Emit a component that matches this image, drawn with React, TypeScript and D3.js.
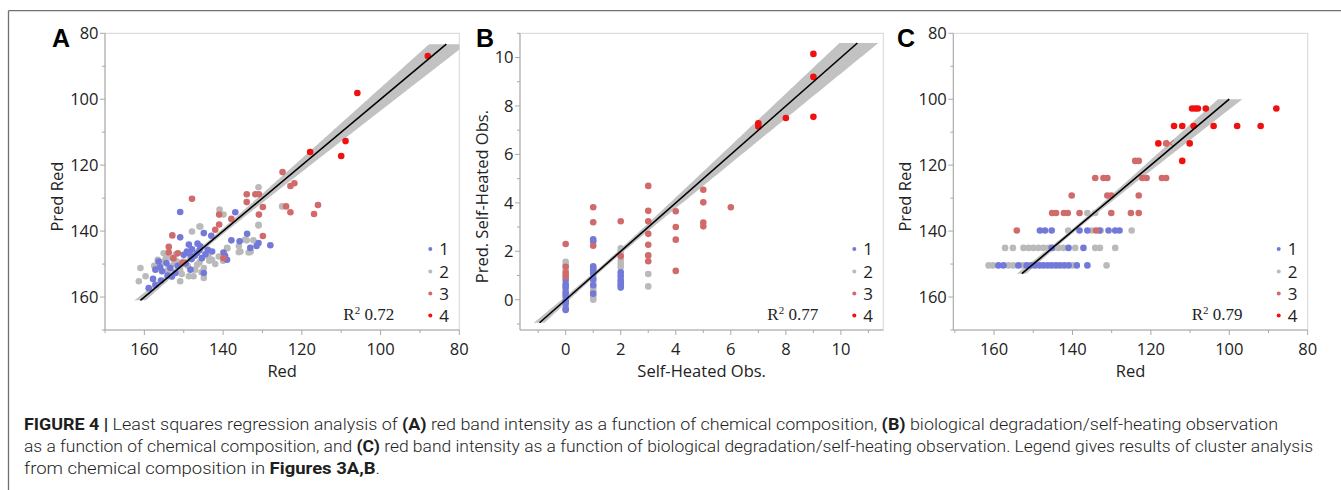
import React from "react";
import * as d3 from "d3";

// ---------- DATA ----------
const clusterLabels = ["1", "2", "3", "4"];
const clusterColors = ["#7279d8", "#bababa", "#d16a6a", "#f01010"];

const redTicks = [160, 140, 120, 100, 80];
const redMinor = [170, 150, 130, 110, 90];
const predRedTicks = [80, 100, 120, 140, 160];
const predRedMinor = [90, 110, 130, 150, 170];
const shTicks = [0, 2, 4, 6, 8, 10];
const shMinor = [-1, 1, 3, 5, 7, 9, 11];

const r2Values = ["0.72", "0.77", "0.79"];
const panelLetters = ["A", "B", "C"];
const xTitles = ["Red", "Self-Heated Obs.", "Red"];
const yTitles = ["Pred Red", "Pred. Self-Heated Obs.", "Pred Red"];

// fitted line extents (y = x) and confidence band parameters [mean, h0, k]
const fitExtents = [[161, 83.3], [-0.95, 10.6], [152.9, 100]];
const bandParams = [[145, 0.8, 0.075], [1.3, 0.1, 0.075], [140, 0.7, 0.075]];

// Panel A: Red vs Pred Red
const aCluster1 = [[150.9,134.2],[136.9,134.3],[144.9,140.6],[143,141.4],[150.9,141.9],[133.9,140.8],[137.9,142.8],[135.8,143.1],[131,143.6],[128,144.3],[133.1,145.1],[148.7,144.1],[147.9,145.5],[145.8,144.6],[143.9,145.7],[142.8,146.2],[139.9,146.5],[149.2,146.2],[146.6,146.7],[150,147.2],[145.4,148.2],[139,148.7],[156.4,149.2],[154.4,149.7],[157.2,151.7],[155.5,152.2],[153.4,151.2],[152.1,152.7],[148.3,151.7],[144.9,152.7],[157.8,154.5],[155.8,155],[154.1,153.5],[158.9,157.3],[157.2,156.3],[147.2,147.5],[148.5,146.8],[146,145.8],[144.5,147],[151.5,150.5],[149.5,149.8],[156,151],[153,153.8],[146.5,143.8],[148,148.5],[139.5,147.5],[131.5,144.5]];
const aCluster2 = [[140.9,133.5],[139.9,135],[145.8,138.6],[147.9,140.1],[131,138.1],[134.4,142.6],[132.3,142.8],[135.6,146.2],[133.5,146.5],[139,145.1],[141.1,147.7],[142.8,148.7],[146.6,150.2],[144.9,151.2],[147.1,151.7],[150.9,151.7],[155.1,146.7],[156.6,148.7],[155.1,149.2],[153,148.2],[151.7,149.2],[153.8,150.7],[161,151.2],[159.7,153.7],[161.4,155.2],[150.9,155.2],[148.7,153.7],[147.5,153.7],[144.9,154.2],[148.3,148.2],[150,149.2],[143.7,147.7],[125,132.5],[131,126.7],[131,138.3],[146,138.6],[136,146.4],[134,142.8],[138.9,145.2],[133,146.3],[156,150.5],[154.5,148],[152.5,150],[149,150.5],[146,149.5],[143.5,149],[145.5,152.5],[154,152],[157.5,150.5],[142,150],[140,149],[150.5,153],[152,147],[136,144.5]];
const aCluster3 = [[124.9,122.1],[122.9,126.3],[121.9,125.5],[134,128.8],[131.8,128.8],[130.9,128.8],[134,131.2],[129.9,132.7],[130.9,135],[124,132.5],[122.9,134.3],[115.9,132.1],[116.9,134.8],[129.9,141.5],[147.9,130.2],[141,135],[137.9,136.3],[141,138],[142,139.6],[152.9,141.3],[153.8,144.8],[139.9,148.2],[152.6,148.2],[150.3,149.6],[151.5,146.7],[153.8,146.5]];
const aCluster4 = [[88,86.9],[105.9,98.1],[117.9,116],[108.9,112.7],[110,117.2]];

// Panel B: Self-Heated Obs. vs Pred.
const bCluster1 = [[0,0.82],[0,0.62],[0,0.52],[0,0.31],[0,0.15],[0,-0.05],[0,-0.15],[0,-0.37],[0,-0.42],[1,2.49],[1,2.4],[1,1.38],[1,1.3],[1,1.22],[1,1.08],[1,0.85],[1,0.6],[1,0.25],[2,1.13],[2,0.99],[2,0.8],[2,0.69],[2,0.6],[2,0.5]];
const bCluster2 = [[3,1.06],[3,0.55],[0,1.57],[0,1.43],[0,1.22],[0,1.02],[0,0.71],[0,0.42],[0,0.22],[0,0.04],[0,-0.26],[1,1.15],[1,1.0],[1,0.92],[1,0.78],[1,0.7],[1,0.52],[1,0.42],[1,0.32],[1,0.15],[1,0.05],[1,0.0],[2,2.12],[2,1.98],[2,1.62],[2,1.48],[2,1.34],[2,0.9]];
const bCluster3 = [[6,3.82],[5,4.54],[5,4.02],[5,3.19],[5,3.03],[4,3.65],[4,3.0],[4,2.48],[4,1.19],[3,4.7],[3,3.67],[3,3.24],[3,2.72],[3,2.27],[3,1.83],[3,1.59],[2,3.24],[2,1.8],[1,3.82],[1,3.2],[1,2.23],[0,2.3],[0,1.36],[0,1.11],[0,0.95]];
const bCluster4 = [[9,10.15],[9,9.2],[9,7.55],[8,7.5],[7,7.28],[7,7.15]];

// Panel C: Red vs Pred Red (from self-heating)
const cCluster1 = [[148.3,139.8],[147,139.8],[145.3,139.8],[138.2,139.8],[136.2,139.8],[133.1,139.8],[130.8,139.8],[129.1,139.8],[128,139.8],[145.3,145.1],[141,145.1],[137.2,145.1],[158.9,150.4],[157.6,150.4],[153.8,150.4],[151.7,150.4],[150.6,150.4],[149.5,150.4],[148.4,150.4],[147.4,150.4],[146.3,150.4],[145.3,150.4],[144.2,150.4],[143.2,150.4],[142.1,150.4],[141,150.4],[138.9,150.4],[136.2,150.4]];
const cCluster2 = [[136.2,134.5],[134.2,134.5],[141.1,139.8],[135.1,139.8],[132.8,139.8],[124.9,139.8],[157.2,145.1],[155.2,145.1],[152.5,145.1],[151.2,145.1],[150,145.1],[148.7,145.1],[147.4,145.1],[146.1,145.1],[144.9,145.1],[143.6,145.1],[142.3,145.1],[139.3,145.1],[134.2,145.1],[133,145.1],[129.1,145.1],[161.4,150.4],[160.3,150.4],[156.3,150.4],[155.1,150.4],[152.7,150.4],[140,150.4],[131.3,150.4]];
const cCluster3 = [[116.1,113.4],[124,118.7],[123.1,118.7],[134.2,123.9],[132.1,123.9],[131.1,123.9],[122.2,123.9],[121.1,123.9],[117.2,123.9],[116.1,123.9],[140.2,129.2],[131.1,129.2],[130.1,129.2],[123.1,129.2],[145.2,134.5],[144.2,134.5],[142.2,134.5],[141.2,134.5],[138.2,134.5],[130.1,134.5],[125.1,134.5],[123.1,134.5],[154.2,139.8],[134,139.8]];
const cCluster4 = [[109.5,102.8],[108.7,102.8],[108,102.8],[106,102.8],[88,102.8],[114.1,108.1],[112,108.1],[109.1,108.1],[104,108.1],[98,108.1],[92,108.1],[118.1,113.4],[110.1,113.4],[112,118.7]];
const cExcluded = [[115.1,113.4]];

// ---------- LAYOUT ----------
const W = 1341;
const H = 490;
const TOP = 33.3;
const BOTTOM = 330;
const FONT = "'Open Sans', 'Noto Sans', sans-serif";

const panels = [
  { left: 105, right: 459.3, xDomain: [170, 80], yDomain: [80, 170], xTicks: redTicks, xMinor: redMinor, yTicks: predRedTicks, yMinor: predRedMinor, data: [aCluster2, aCluster1, aCluster3, aCluster4], excluded: [], letterX: 52, yTitleX: 57 },
  { left: 520, right: 883.3, xDomain: [-1.66, 11.54], yDomain: [11, -1.25], xTicks: shTicks, xMinor: shMinor, yTicks: shTicks, yMinor: shMinor, data: [bCluster2, bCluster1, bCluster3, bCluster4], excluded: [], letterX: 476, yTitleX: 482 },
  { left: 953.3, right: 1307.7, xDomain: [170.4, 80], yDomain: [80, 170], xTicks: redTicks, xMinor: redMinor, yTicks: predRedTicks, yMinor: predRedMinor, data: [cCluster2, cCluster1, cCluster3, cCluster4], excluded: cExcluded, letterX: 897, yTitleX: 905 },
];

const legendRows = [249, 271.5, 293.5, 315.5];

function Panel({ p, i }: { p: any; i: number }) {
  const x = d3.scaleLinear().domain(p.xDomain).range([p.left, p.right]);
  const y = d3.scaleLinear().domain(p.yDomain).range([TOP, BOTTOM]);
  const [x0, x1] = fitExtents[i];
  const [m, h0, k] = bandParams[i];
  const hw = (v: number) => Math.sqrt(h0 * h0 + k * k * (v - m) * (v - m));
  const lo = Math.min(p.xDomain[0], p.xDomain[1]);
  const hi = Math.max(p.xDomain[0], p.xDomain[1]);
  const xs = d3.range(lo - 5, hi + 5, (hi - lo) / 200);
  const area = d3.area<number>().x((d) => x(d)).y0((d) => y(d - hw(d))).y1((d) => y(d + hw(d)));
  const clipId = `band-clip-${i}`;
  const yA = y(x0), yB = y(x1);
  const legendDotX = p.right - 29;
  const legendTextX = p.right - 20;
  const plotW = p.right - p.left;
  const cx = (p.left + p.right) / 2;
  const axisCol = "#a9a9a9";
  return (
    <g>
      <defs>
        <clipPath id={clipId}>
          <rect x={p.left} y={Math.min(yA, yB)} width={plotW} height={Math.abs(yA - yB)} />
        </clipPath>
      </defs>
      <rect x={p.left} y={TOP} width={plotW} height={BOTTOM - TOP} fill="#fff" stroke="#d6d6d6" strokeWidth={1} />
      <path d={area(xs) || ""} fill="#c2c2c2" clipPath={`url(#${clipId})`} />
      {p.data.map((series: number[][], si: number) => {
        const ci = [1, 0, 2, 3][si];
        return series.map((d, j) => (
          <circle key={`${si}-${j}`} cx={x(d[0])} cy={y(d[1])} r={3.3} fill={clusterColors[ci]} />
        ));
      })}
      {p.excluded.map((d: number[], j: number) => (
        <g key={`ex-${j}`} stroke={clusterColors[2]} strokeWidth={1.2}>
          <line x1={x(d[0]) - 3.5} y1={y(d[1]) - 3.5} x2={x(d[0]) + 3.5} y2={y(d[1]) + 3.5} />
          <line x1={x(d[0]) - 3.5} y1={y(d[1]) + 3.5} x2={x(d[0]) + 3.5} y2={y(d[1]) - 3.5} />
        </g>
      ))}
      <line x1={x(x0)} y1={y(x0)} x2={x(x1)} y2={y(x1)} stroke="#000" strokeWidth={1.6} />
      <line x1={p.left} y1={BOTTOM} x2={p.right} y2={BOTTOM} stroke={axisCol} strokeWidth={1} />
      <line x1={p.left} y1={TOP} x2={p.left} y2={BOTTOM} stroke={axisCol} strokeWidth={1} />
      {p.xTicks.map((t: number) => (
        <g key={`xt${t}`}>
          <line x1={x(t)} x2={x(t)} y1={BOTTOM} y2={BOTTOM + 5} stroke={axisCol} />
          <text x={x(t)} y={354.5} textAnchor="middle" fontFamily={FONT} fontSize={16.5} fill="#222">{t}</text>
        </g>
      ))}
      {p.xMinor.map((t: number) => (
        <line key={`xm${t}`} x1={x(t)} x2={x(t)} y1={BOTTOM} y2={BOTTOM + 3} stroke={axisCol} />
      ))}
      {p.yTicks.map((t: number) => (
        <g key={`yt${t}`}>
          <line x1={p.left - 5} x2={p.left} y1={y(t)} y2={y(t)} stroke={axisCol} />
          <text x={p.left - 6.5} y={y(t)} dy="0.36em" textAnchor="end" fontFamily={FONT} fontSize={16.5} fill="#222">{t}</text>
        </g>
      ))}
      {p.yMinor.map((t: number) => (
        <line key={`ym${t}`} x1={p.left - 3} x2={p.left} y1={y(t)} y2={y(t)} stroke={axisCol} />
      ))}
      <text x={cx} y={377} textAnchor="middle" fontFamily={FONT} fontSize={16.5} fill="#222">{xTitles[i]}</text>
      <text transform={`translate(${p.yTitleX},${(TOP + BOTTOM) / 2 + 15}) rotate(-90)`} dy="0.36em" textAnchor="middle" fontFamily={FONT} fontSize={16.5} fill="#222">{yTitles[i]}</text>
      <text x={p.letterX} y={47} fontFamily="'Liberation Sans', Arial, sans-serif" fontWeight="bold" fontSize={25} fill="#000">{panelLetters[i]}</text>
      {clusterLabels.map((lab, li) => (
        <g key={`lg${li}`}>
          <circle cx={legendDotX} cy={legendRows[li]} r={2} fill={clusterColors[li]} />
          <text x={legendTextX} y={legendRows[li]} dy="0.36em" fontFamily={FONT} fontSize={17} fill="#222">{lab}</text>
        </g>
      ))}
      <text x={p.right - 116} y={320} fontFamily="'Liberation Serif', 'DejaVu Serif', serif" fontSize={17} fill="#222">
        R<tspan dy={-6} fontSize={11}>2</tspan><tspan dy={6}> {r2Values[i]}</tspan>
      </text>
    </g>
  );
}

const CAP_FONT = "Roboto, 'Liberation Sans', Arial, sans-serif";

export default function App() {
  return (
    <svg width={W} height={H} style={{ position: "absolute", left: 0, top: 0, background: "#fff" }}>
      <rect x={0} y={0} width={W} height={H} fill="#fff" />
      <line x1={8.5} y1={10.7} x2={W} y2={10.7} stroke="#707070" strokeWidth={1.3} />
      <line x1={8.5} y1={10.7} x2={8.5} y2={H} stroke="#707070" strokeWidth={1.3} />
      {panels.map((p, i) => <Panel key={i} p={p} i={i} />)}
      <g fontFamily={CAP_FONT} fontSize={16} fontWeight={300} fill="#1e1e1e">
        <text x={24} y={430} textLength={1254} lengthAdjust="spacingAndGlyphs">
          <tspan fontWeight="bold">FIGURE 4 |</tspan> Least squares regression analysis of <tspan fontWeight="bold">(A)</tspan> red band intensity as a function of chemical composition, <tspan fontWeight="bold">(B)</tspan> biological degradation/self-heating observation
        </text>
        <text x={24} y={452} textLength={1289} lengthAdjust="spacingAndGlyphs">
          as a function of chemical composition, and <tspan fontWeight="bold">(C)</tspan> red band intensity as a function of biological degradation/self-heating observation. Legend gives results of cluster analysis
        </text>
        <text x={24} y={474} textLength={356} lengthAdjust="spacingAndGlyphs">
          from chemical composition in <tspan fontWeight="bold">Figures 3A,B</tspan>.
        </text>
      </g>
    </svg>
  );
}
